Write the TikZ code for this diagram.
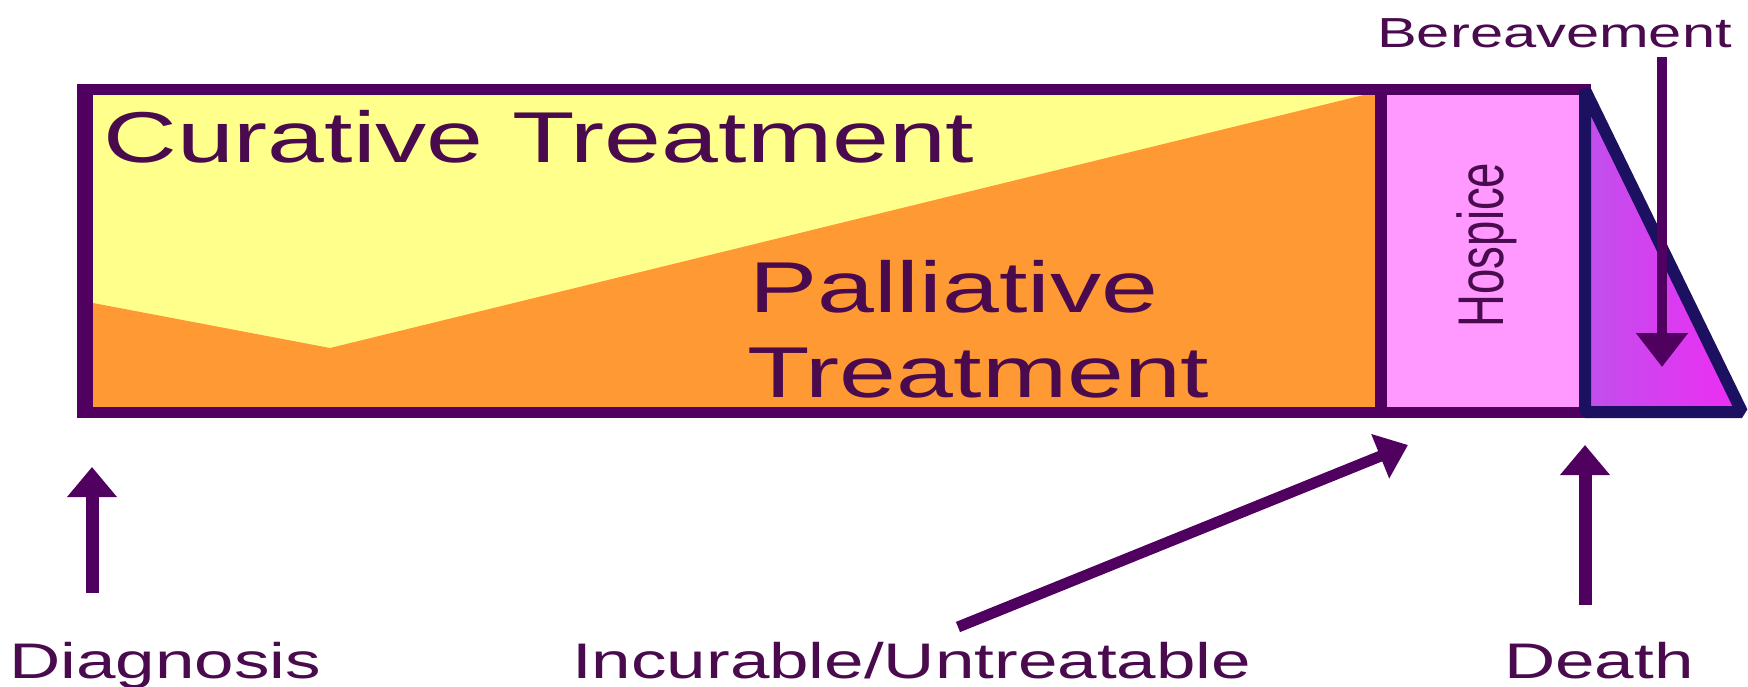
\documentclass[tikz,border=0pt]{standalone}
\usepackage{fontspec}
\usepackage{graphicx}
\usetikzlibrary{arrows.meta}
\newfontfamily\widefont{Liberation Sans}[FakeStretch=1.42]
\newfontfamily\plainfont{Liberation Sans}
\definecolor{linecol}{HTML}{50005E}
\definecolor{navycol}{HTML}{1C1060}
\definecolor{textcol}{HTML}{4A0A4E}
\definecolor{yel}{HTML}{FFFF8C}
\definecolor{ora}{HTML}{FF9933}
\definecolor{pnk}{HTML}{FF99FF}
\definecolor{mag}{HTML}{EE2CF4}
\definecolor{magl}{HTML}{C050EC}
\tikzset{
  bigtext/.style={inner sep=0pt, anchor=base west, text=textcol,
    font=\widefont\fontsize{72}{85}\selectfont},
  labeltext/.style={inner sep=0pt, anchor=base west, text=textcol,
    font=\widefont\fontsize{50}{60}\selectfont},
  bertext/.style={inner sep=0pt, anchor=base west, text=textcol,
    font=\widefont\fontsize{42}{50}\selectfont},
  arr/.style={draw=linecol, line width=13pt, -{Triangle[length=30pt,width=48pt]}},
  thinarr/.style={draw=linecol, line width=11pt, -{Triangle[length=30pt,width=46pt]}},
}
\begin{document}
\begin{tikzpicture}[x=1pt,y=-1pt]
\fill[white] (0,0) rectangle (1748,687);
\useasboundingbox (0,0) rectangle (1748,687);
% fills
\fill[yel] (88,90) rectangle (1381,412);
\fill[ora] (93,303) -- (330,348) -- (1376,92) -- (1376,408) -- (93,408) -- cycle;
\fill[pnk] (1381,90) rectangle (1585,412);
\path[left color=magl, right color=mag] (1585,90) -- (1742,412) -- (1585,412) -- cycle;
% borders
\draw[linecol, line width=11pt] (82.5,90) rectangle (1585,412);
\fill[linecol] (77,84.5) rectangle (93,417.5);
\draw[linecol, line width=12pt] (1381,90) -- (1381,412);
\draw[navycol, line width=12pt, line join=bevel] (1585,90) -- (1742,412) -- (1585,412) -- cycle;
% texts
\node[bigtext] (cur) at (103,163) {Curative Treatment};
\node[bigtext] (pal) at (749,312) {Palliative};
\node[bigtext] (pal2) at (747,397) {Treatment};
\node[inner sep=0pt, anchor=base, rotate=90, text=textcol] (hos) at (1503,245)
  {\scalebox{1}[1.42]{\plainfont\fontsize{45.5}{54}\selectfont Hospice}};
\node[bertext] (ber) at (1377,48) {Bereavement};
\node[labeltext] (diag) at (9,678) {Diagnosis};
\node[labeltext] (incur) at (572,678) {Incurable/Untreatable};
\node[labeltext] (death) at (1504,678) {Death};
% arrows
\coordinate (diagTail) at (92,593);
\coordinate (diagTip) at (92,467);
\coordinate (incTail) at (958,627);
\coordinate (incTip) at (1408,445);
\coordinate (deathTail) at (1585,605);
\coordinate (deathTip) at (1585,445);
\coordinate (berTail) at (1662,57);
\coordinate (berTip) at (1662,367);
\draw[arr] (diagTail) -- (diagTip);
\draw[thinarr] (incTail) -- (incTip);
\draw[arr] (deathTail) -- (deathTip);
\draw[draw=linecol, line width=10pt, -{Triangle[length=34pt,width=50pt]}] (berTail) -- (berTip);
\end{tikzpicture}
\end{document}
